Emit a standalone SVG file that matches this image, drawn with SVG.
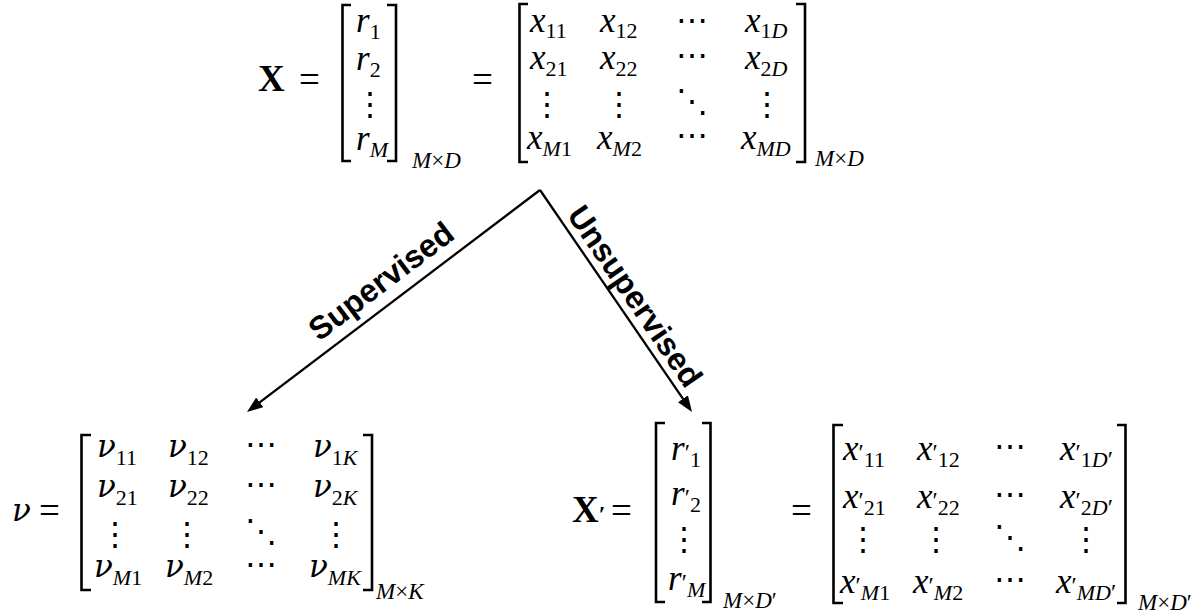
<svg xmlns="http://www.w3.org/2000/svg" width="1204" height="613" viewBox="0 0 1204 613">
<style>
text{fill:#000}
.m{font-family:"Liberation Serif","Times New Roman",serif;font-size:35px;font-style:italic}
.nu{font-family:"DejaVu Serif",serif;font-size:31px}
.nu .s{font-family:"Liberation Serif","Times New Roman",serif}
.rm{font-family:"Liberation Serif","Times New Roman",serif;font-size:37px}
.b{font-weight:bold}
.eq{font-family:"Liberation Serif","Times New Roman",serif;font-size:37px}
.s{font-size:22px;font-style:normal}
.si{font-style:italic}
.p{font-style:normal;font-size:24px}
.dim{font-family:"Liberation Serif","Times New Roman",serif;font-size:23px;font-style:italic}
.dim .u{font-style:normal}
.d{font-family:"DejaVu Serif",serif;font-size:32px;text-anchor:middle}
.br{fill:none;stroke:#000;stroke-width:2.6}
.lbl{font-family:"Liberation Sans",Arial,sans-serif;font-weight:bold;font-size:32px;text-anchor:middle}
.cn{fill:none;stroke:#000;stroke-width:2.3}
</style>
<defs>
<marker id="ah" markerUnits="userSpaceOnUse" markerWidth="16" markerHeight="12" refX="8" refY="6" orient="auto">
<path d="M0,0 L16,6 L0,12 z" fill="#000"/>
</marker>
</defs>

<g id="connectors">
<path class="cn" d="M540,190 L253.4,407.2" marker-end="url(#ah)"/>
<path class="cn" d="M540,190 L687.5,405.4" marker-end="url(#ah)"/>
<text class="lbl" transform="translate(381,281) rotate(-37.2)" y="11">Supervised</text>
<text class="lbl" transform="translate(635,296) rotate(55.6)" y="11">Unsupervised</text>
</g>

<g id="node-X">
<text class="rm b" x="258" y="91">X</text>
<text class="eq" x="299" y="92">=</text>
<path class="br" d="M351,5 H342.5 V161 H351"/>
<path class="br" d="M387,5 H396 V161 H387"/>
<text class="m" x="356" y="32">r<tspan class="s" dy="7">1</tspan></text>
<text class="m" x="356" y="70">r<tspan class="s" dy="7">2</tspan></text>
<text class="d" x="370" y="115">⋮</text>
<text class="m" x="356" y="150">r<tspan class="s si" dy="7">M</tspan></text>
<text class="dim" x="412" y="168">M<tspan class="u">×</tspan>D</text>
<text class="eq" x="472" y="92">=</text>
<path class="br" d="M528,4 H519.5 V162 H528"/>
<path class="br" d="M796,4 H805 V162 H796"/>
<text class="m" x="530" y="32">x<tspan class="s" dy="6">11</tspan></text>
<text class="m" x="600" y="32">x<tspan class="s" dy="6">12</tspan></text>
<text class="d" x="692" y="31">⋯</text>
<text class="m" x="745" y="32">x<tspan class="s" dy="6">1<tspan class="si">D</tspan></tspan></text>
<text class="m" x="530" y="69">x<tspan class="s" dy="7">21</tspan></text>
<text class="m" x="600" y="69">x<tspan class="s" dy="7">22</tspan></text>
<text class="d" x="692" y="66">⋯</text>
<text class="m" x="745" y="69">x<tspan class="s" dy="7">2<tspan class="si">D</tspan></tspan></text>
<text class="d" x="547" y="115">⋮</text>
<text class="d" x="619" y="115">⋮</text>
<text class="d" x="692" y="112">⋱</text>
<text class="d" x="767" y="115">⋮</text>
<text class="m" x="527" y="149">x<tspan class="s si" dy="7">M</tspan><tspan class="s">1</tspan></text>
<text class="m" x="597" y="149">x<tspan class="s si" dy="7">M</tspan><tspan class="s">2</tspan></text>
<text class="d" x="692" y="146">⋯</text>
<text class="m" x="741" y="149">x<tspan class="s si" dy="7">MD</tspan></text>
<text class="dim" x="815" y="166">M<tspan class="u">×</tspan>D</text>
</g>

<g id="node-nu">
<text class="nu" x="12" y="521"><tspan font-style="italic">ν</tspan></text>
<text class="eq" x="39" y="523">=</text>
<path class="br" d="M91,435 H81.5 V590 H91"/>
<path class="br" d="M363,435 H372 V590 H363"/>
<text class="nu" x="97" y="457"><tspan font-style="italic">ν</tspan><tspan class="s" dy="8">11</tspan></text>
<text class="nu" x="168" y="457"><tspan font-style="italic">ν</tspan><tspan class="s" dy="8">12</tspan></text>
<text class="d" x="261" y="455">⋯</text>
<text class="nu" x="313" y="457"><tspan font-style="italic">ν</tspan><tspan class="s" dy="8">1<tspan class="si">K</tspan></tspan></text>
<text class="nu" x="97" y="497"><tspan font-style="italic">ν</tspan><tspan class="s" dy="8">21</tspan></text>
<text class="nu" x="168" y="497"><tspan font-style="italic">ν</tspan><tspan class="s" dy="8">22</tspan></text>
<text class="d" x="261" y="495">⋯</text>
<text class="nu" x="313" y="497"><tspan font-style="italic">ν</tspan><tspan class="s" dy="8">2<tspan class="si">K</tspan></tspan></text>
<text class="d" x="115" y="545">⋮</text>
<text class="d" x="187" y="545">⋮</text>
<text class="d" x="261" y="542">⋱</text>
<text class="d" x="336" y="545">⋮</text>
<text class="nu" x="94" y="577"><tspan font-style="italic">ν</tspan><tspan class="s si" dy="8">M</tspan><tspan class="s">1</tspan></text>
<text class="nu" x="165" y="577"><tspan font-style="italic">ν</tspan><tspan class="s si" dy="8">M</tspan><tspan class="s">2</tspan></text>
<text class="d" x="261" y="575">⋯</text>
<text class="nu" x="309" y="577"><tspan font-style="italic">ν</tspan><tspan class="s si" dy="8">MK</tspan></text>
<text class="dim" x="376" y="599">M<tspan class="u">×</tspan>K</text>
</g>

<g id="node-Xprime">
<text class="rm b" x="572" y="522">X<tspan class="p">′</tspan></text>
<text class="eq" x="611" y="523">=</text>
<path class="br" d="M665,423 H656 V602 H665"/>
<path class="br" d="M702,423 H710.5 V602 H702"/>
<text class="m" x="671" y="460">r<tspan class="p">′</tspan><tspan class="s" dy="7">1</tspan></text>
<text class="m" x="671" y="505">r<tspan class="p">′</tspan><tspan class="s" dy="7">2</tspan></text>
<text class="d" x="684" y="550">⋮</text>
<text class="m" x="668" y="590">r<tspan class="p">′</tspan><tspan class="s si" dy="7">M</tspan></text>
<text class="dim" x="723" y="608">M<tspan class="u">×</tspan>D<tspan class="u">′</tspan></text>
<text class="eq" x="791" y="523">=</text>
<path class="br" d="M843,425 H833.5 V603 H843"/>
<path class="br" d="M1117,425 H1125.5 V603 H1117"/>
<text class="m" x="843" y="460">x<tspan class="p">′</tspan><tspan class="s" dy="7">11</tspan></text>
<text class="m" x="917" y="460">x<tspan class="p">′</tspan><tspan class="s" dy="7">12</tspan></text>
<text class="d" x="1010" y="457">⋯</text>
<text class="m" x="1060" y="460">x<tspan class="p">′</tspan><tspan class="s" dy="7">1<tspan class="si">D</tspan><tspan class="p">′</tspan></tspan></text>
<text class="m" x="843" y="508">x<tspan class="p">′</tspan><tspan class="s" dy="7">21</tspan></text>
<text class="m" x="917" y="508">x<tspan class="p">′</tspan><tspan class="s" dy="7">22</tspan></text>
<text class="d" x="1010" y="505">⋯</text>
<text class="m" x="1060" y="508">x<tspan class="p">′</tspan><tspan class="s" dy="7">2<tspan class="si">D</tspan><tspan class="p">′</tspan></tspan></text>
<text class="d" x="863" y="550">⋮</text>
<text class="d" x="936" y="550">⋮</text>
<text class="d" x="1010" y="548">⋱</text>
<text class="d" x="1086" y="550">⋮</text>
<text class="m" x="840" y="593">x<tspan class="p">′</tspan><tspan class="s si" dy="7">M</tspan><tspan class="s">1</tspan></text>
<text class="m" x="913" y="593">x<tspan class="p">′</tspan><tspan class="s si" dy="7">M</tspan><tspan class="s">2</tspan></text>
<text class="d" x="1010" y="590">⋯</text>
<text class="m" x="1056" y="593">x<tspan class="p">′</tspan><tspan class="s si" dy="7">MD<tspan class="p">′</tspan></tspan></text>
<text class="dim" x="1138" y="610">M<tspan class="u">×</tspan>D<tspan class="u">′</tspan></text>
</g>
</svg>
